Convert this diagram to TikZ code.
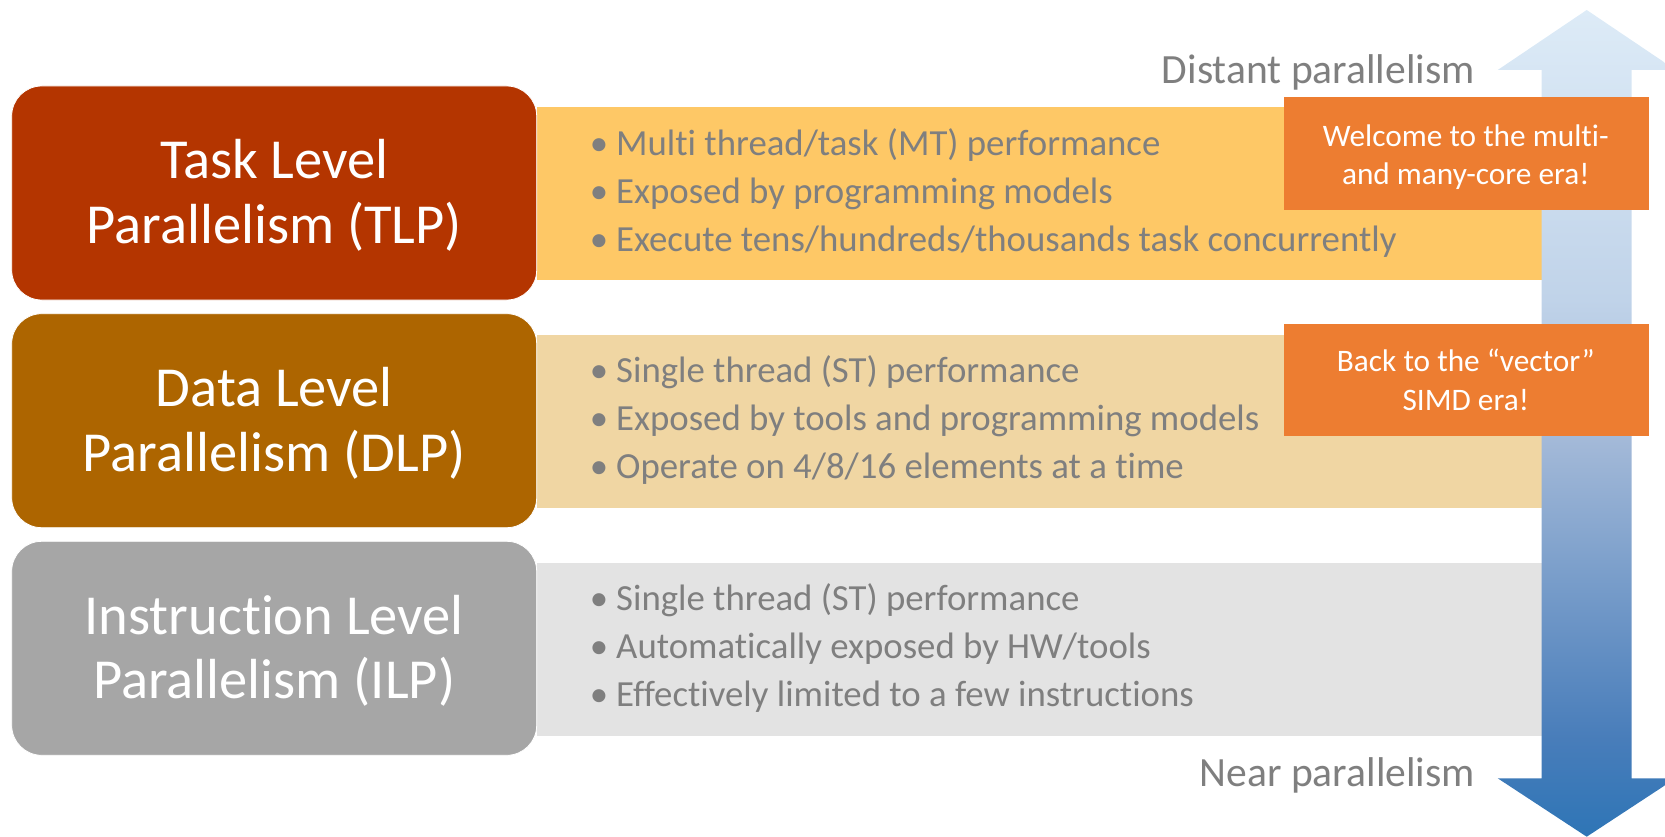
\documentclass[tikz,border=0pt]{standalone}
\usepackage{fontspec}
\setmainfont[Ligatures=NoCommon]{Carlito}
\definecolor{tlpbox}{RGB}{180,53,0}
\definecolor{dlpbox}{RGB}{173,101,0}
\definecolor{ilpbox}{RGB}{166,166,166}
\definecolor{tlpband}{RGB}{254,200,102}
\definecolor{dlpband}{RGB}{240,214,163}
\definecolor{ilpband}{RGB}{227,227,227}
\definecolor{callout}{RGB}{237,125,49}
\definecolor{txtgray}{RGB}{127,127,127}
\definecolor{aone}{RGB}{221,235,247}
\definecolor{atwo}{RGB}{192,211,233}
\definecolor{athree}{RGB}{163,185,216}
\definecolor{afour}{RGB}{72,125,186}
\definecolor{afive}{RGB}{46,117,182}
\pgfdeclareverticalshading{arrowshade}{100bp}{color(0bp)=(afive); color(25bp)=(afive); color(30.9bp)=(afour); color(49bp)=(athree); color(57.5bp)=(atwo); color(75bp)=(aone); color(100bp)=(aone)}
\tikzset{
  titlebox/.style={rectangle, rounded corners=30pt, draw=white, line width=0.8pt, minimum width=525pt, minimum height=214pt, inner sep=0},
  titletext/.style={anchor=base, inner sep=0, text=white, font=\fontsize{56.5}{64}\selectfont},
  band/.style={rectangle, anchor=north west, inner sep=0, minimum width=1004.7pt, minimum height=173pt},
  bulletline/.style={anchor=base west, inner sep=0, text=txtgray, font=\fontsize{36.8}{48}\selectfont, execute at begin node={\llap{\textbullet\hspace{8pt}}}},
  calloutbox/.style={rectangle, anchor=north west, inner sep=0, fill=callout, minimum width=365pt, minimum height=112.7pt},
  callouttext/.style={anchor=base, inner sep=0, text=white, font=\fontsize{31.3}{38}\selectfont},
  sidetext/.style={anchor=base east, inner sep=0, text=txtgray, font=\fontsize{41.6}{48}\selectfont}
}
\begin{document}
\begin{tikzpicture}[x=1pt,y=-1pt]
\useasboundingbox (0,0) rectangle (1665,837);
% bands
\node[band, fill=tlpband] (tlpb) at (537,106.7) {};
\node[band, fill=dlpband] (dlpb) at (537,334.3) {};
\node[band, fill=ilpband] (ilpb) at (537,562.3) {};
% arrow
\path[shading=arrowshade] (1541.7,70) -- (1497.7,70) -- (1586.7,10) -- (1675.7,70) -- (1631.7,70) -- (1631.7,778.3) -- (1675.7,778.3) -- (1586.7,836.7) -- (1497.7,778.3) -- (1541.7,778.3) -- cycle;
% title boxes
\node[titlebox, fill=tlpbox] (tlp) at (274.2,193) {};
\node[titlebox, fill=dlpbox] (dlp) at (274.2,420.7) {};
\node[titlebox, fill=ilpbox] (ilp) at (274.2,648.3) {};
\node[titletext] (tlpa) at (274.2,179) {Task Level};
\node[titletext] (tlpz) at (274.2,243.3) {Parallelism (TLP)};
\node[titletext] (dlpa) at (274.2,406.7) {Data Level};
\node[titletext] (dlpz) at (274.2,471) {Parallelism (DLP)};
\node[titletext] (ilpa) at (274.2,634.3) {Instruction Level};
\node[titletext] (ilpz) at (274.2,698.6) {Parallelism (ILP)};
% bullets
\node[bulletline] (t1) at (616,155.3) {Multi thread/task (MT) performance};
\node[bulletline] (t2) at (616,203.3) {Exposed by programming models};
\node[bulletline] (t3) at (616,251.3) {Execute tens/hundreds/thousands task concurrently};
\node[bulletline] (d1) at (616,382.8) {Single thread (ST) performance};
\node[bulletline] (d2) at (616,430.8) {Exposed by tools and programming models};
\node[bulletline] (d3) at (616,478.8) {Operate on 4/8/16 elements at a time};
\node[bulletline] (i1) at (616,610.4) {Single thread (ST) performance};
\node[bulletline] (i2) at (616,658.4) {Automatically exposed by HW/tools};
\node[bulletline] (i3) at (616,706.4) {Effectively limited to a few instructions};
% callouts
\node[calloutbox] (c1) at (1283.3,97.3) {};
\node[callouttext] (c1a) at (1465.8,146.7) {Welcome to the multi-};
\node[callouttext] (c1b) at (1465.8,184.3) {and many-core era!};
\node[calloutbox] (c2) at (1283.3,323.3) {};
\node[callouttext] (c2a) at (1465.8,371.7) {Back to the “vector”};
\node[callouttext] (c2b) at (1465.8,410) {SIMD era!};
% side labels
\node[sidetext] (far) at (1475,83.3) {Distant parallelism};
\node[sidetext] (near) at (1475,786.7) {Near parallelism};
\end{tikzpicture}
\end{document}
